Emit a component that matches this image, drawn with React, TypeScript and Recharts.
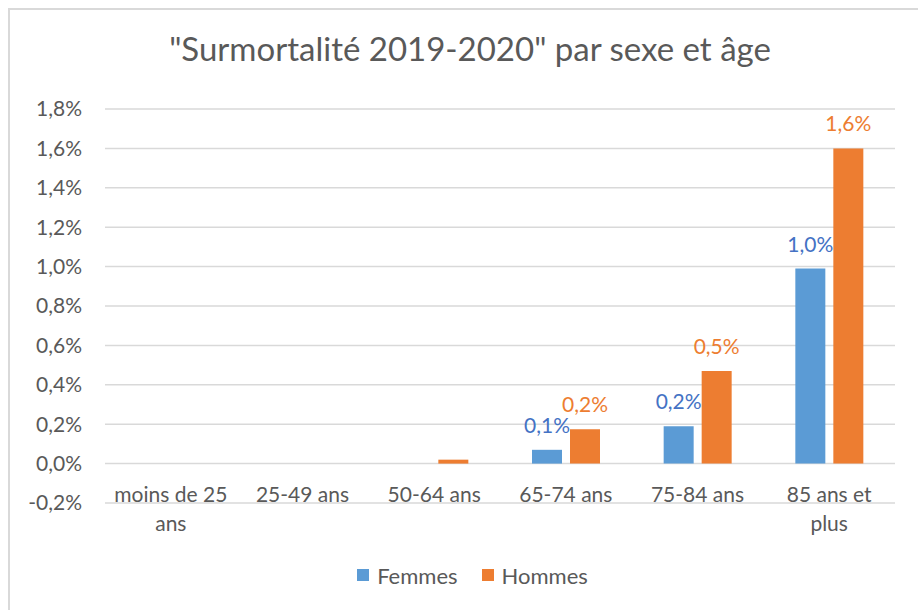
import { BarChart, Bar, XAxis, YAxis, CartesianGrid, Legend, LabelList } from 'recharts';

const categories = ['moins de 25 ans', '25-49 ans', '50-64 ans', '65-74 ans', '75-84 ans', '85 ans et plus'];
const femmes = [0, 0, 0, 0.07, 0.19, 0.99];
const hommes = [0, 0, 0.02, 0.175, 0.47, 1.6];
const yTicks = [-0.2, 0, 0.2, 0.4, 0.6, 0.8, 1.0, 1.2, 1.4, 1.6, 1.8];

const BLUE = '#5B9BD5';
const ORANGE = '#ED7D31';
const TEXT = '#595959';
const FONT = 'Lato, "Noto Sans", sans-serif';

const data = categories.map((c, i) => ({ cat: c, femmes: femmes[i], hommes: hommes[i] }));

const pct = (v: number) => v.toFixed(1).replace('.', ',') + '%';

function wrap(s: string, max: number) {
  const lines: string[] = [];
  let cur = '';
  for (const w of s.split(' ')) {
    const next = cur ? cur + ' ' + w : w;
    if (next.length > max && cur) {
      lines.push(cur);
      cur = w;
    } else cur = next;
  }
  if (cur) lines.push(cur);
  return lines;
}

const CategoryTick = (props: any) => {
  const { x, y, payload } = props;
  const lines = wrap(payload.value, 11);
  return (
    <text x={x} y={y} textAnchor="middle" fill={TEXT} fontSize={21} fontFamily={FONT}>
      {lines.map((l, i) => (
        <tspan key={i} x={x} dy={i === 0 ? -1 : 29}>
          {l}
        </tspan>
      ))}
    </text>
  );
};

const makeLabel = (color: string) => (props: any) => {
  const { x, y, width, value } = props;
  if (value < 0.05) return null;
  return (
    <text x={x + width / 2} y={y - 17} textAnchor="middle" fill={color} fontSize={21} fontFamily={FONT}>
      {pct(value)}
    </text>
  );
};

const LegendContent = () => (
  <div
    style={{
      display: 'flex',
      justifyContent: 'center',
      alignItems: 'center',
      height: 40,
      paddingLeft: 40,
      fontFamily: FONT,
      fontSize: 22,
      color: TEXT,
    }}
  >
    <span style={{ width: 12, height: 12, background: BLUE, marginRight: 8 }} />
    <span style={{ marginRight: 24 }}>Femmes</span>
    <span style={{ width: 12, height: 12, background: ORANGE, marginRight: 8 }} />
    <span>Hommes</span>
  </div>
);

export default function App() {
  return (
    <>
      <style>{'html,body{margin:0;overflow:hidden;background:#fff}'}</style>
      <div
        style={{
          position: 'absolute',
          left: 8,
          top: 8,
          width: 910,
          height: 602,
          borderTop: '2px solid #D9D9D9',
          borderLeft: '2px solid #D9D9D9',
          boxSizing: 'border-box',
          overflow: 'hidden',
        }}
      >
        <BarChart
          width={908}
          height={600}
          data={data}
          margin={{ top: 99, right: 23, bottom: 15, left: 0 }}
          barCategoryGap={32}
          barGap={8}
        >
          <text x={460} y={51} textAnchor="middle" fill={TEXT} fontSize={33} fontFamily={FONT}>
            "Surmortalité 2019-2020" par sexe et âge
          </text>
          <CartesianGrid vertical={false} stroke="#D9D9D9" strokeWidth={1.5} />
          <XAxis
            dataKey="cat"
            axisLine={false}
            tickLine={false}
            tickSize={0}
            tickMargin={0}
            height={52}
            interval={0}
            tick={<CategoryTick />}
          />
          <YAxis
            width={95}
            domain={[-0.2, 1.8]}
            ticks={yTicks}
            axisLine={false}
            tickLine={false}
            tickSize={0}
            tickMargin={23}
            tickFormatter={pct}
            tick={{ fill: TEXT, fontSize: 21, fontFamily: FONT }}
          />
          <Legend verticalAlign="bottom" content={<LegendContent />} />
          <Bar dataKey="femmes" name="Femmes" fill={BLUE} isAnimationActive={false}>
            <LabelList dataKey="femmes" content={makeLabel('#4472C4')} />
          </Bar>
          <Bar dataKey="hommes" name="Hommes" fill={ORANGE} isAnimationActive={false}>
            <LabelList dataKey="hommes" content={makeLabel(ORANGE)} />
          </Bar>
        </BarChart>
      </div>
    </>
  );
}
